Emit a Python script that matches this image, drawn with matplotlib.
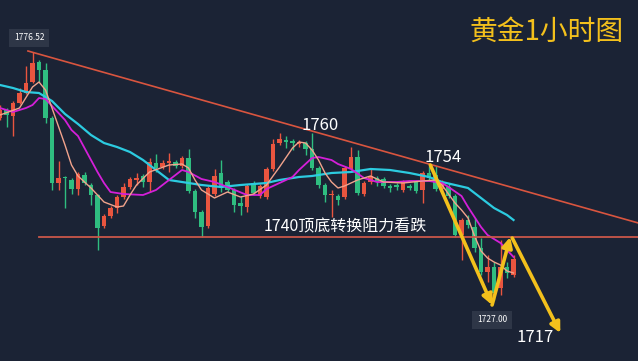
import matplotlib
matplotlib.use("Agg")
import matplotlib.pyplot as plt
import numpy as np

plt.rcParams['font.family'] = ['Noto Sans CJK SC', 'DejaVu Sans']

# ---- data (1-hour gold candles) ----
opens = [1763.4, 1765.0, 1763.8, 1766.4, 1768.4, 1770.6, 1774.6, 1773.0, 1763.4, 1750.4,
         1751.6, 1751.0, 1749.2, 1752.0, 1750.0, 1748.0, 1741.8, 1743.8, 1745.4, 1747.6,
         1749.6, 1751.0, 1751.8, 1750.6, 1754.4, 1753.6, 1754.4, 1754.6, 1753.8, 1755.4,
         1748.8, 1744.6, 1741.8, 1748.2, 1752.4, 1750.6, 1749.0, 1746.4, 1745.6, 1750.4,
         1747.8, 1747.6, 1753.2, 1758.4, 1759.0, 1758.8, 1758.2, 1758.4, 1757.2, 1753.4,
         1750.0, 1748.0, 1747.8, 1747.6, 1753.2, 1755.6, 1748.2, 1750.6, 1751.4, 1751.2,
         1749.8, 1750.0, 1749.0, 1749.8, 1750.6, 1749.0, 1752.4, 1752.0, 1749.2, 1749.6,
         1747.8, 1740.0, 1743.0, 1741.6, 1737.4, 1732.6, 1733.6, 1729.4, 1733.6, 1732.0]
highs = [1766.0, 1765.4, 1766.8, 1769.4, 1773.8, 1776.52, 1775.0, 1774.4, 1763.8, 1754.8,
         1751.8, 1751.4, 1752.6, 1752.6, 1750.4, 1748.2, 1744.2, 1745.8, 1748.0, 1750.4,
         1751.6, 1752.4, 1752.2, 1755.4, 1756.2, 1755.0, 1756.4, 1755.0, 1755.8, 1757.2,
         1749.2, 1745.0, 1749.8, 1753.2, 1755.0, 1751.0, 1749.4, 1747.8, 1750.2, 1750.8,
         1750.2, 1753.6, 1759.2, 1760.4, 1759.8, 1759.2, 1759.0, 1758.8, 1760.4, 1753.8,
         1750.4, 1749.0, 1748.2, 1753.8, 1757.6, 1757.0, 1750.8, 1753.4, 1751.8, 1751.6,
         1750.2, 1750.4, 1751.0, 1750.2, 1751.0, 1752.8, 1753.8, 1753.8, 1751.0, 1750.4,
         1748.2, 1743.4, 1744.0, 1743.4, 1739.4, 1736.0, 1734.6, 1739.0, 1734.6, 1736.0]
lows = [1763.0, 1761.6, 1759.8, 1766.2, 1768.2, 1770.4, 1770.6, 1762.4, 1749.0, 1749.0,
        1745.4, 1748.2, 1748.0, 1750.0, 1746.0, 1737.0, 1741.4, 1743.4, 1744.4, 1747.2,
        1749.2, 1750.0, 1749.6, 1748.6, 1752.6, 1753.2, 1752.6, 1753.4, 1753.4, 1748.4,
        1743.4, 1739.6, 1741.4, 1747.8, 1748.6, 1748.6, 1744.6, 1744.0, 1744.6, 1748.0,
        1747.4, 1747.2, 1752.8, 1758.0, 1757.4, 1757.0, 1757.6, 1756.0, 1753.0, 1749.4,
        1746.6, 1743.6, 1746.0, 1747.2, 1753.0, 1748.0, 1747.8, 1750.2, 1749.8, 1749.4,
        1748.6, 1749.0, 1748.6, 1749.0, 1748.4, 1746.4, 1751.0, 1748.8, 1748.8, 1747.4,
        1739.6, 1735.0, 1741.4, 1736.6, 1732.0, 1730.6, 1727.0, 1728.0, 1731.4, 1731.6]
closes = [1765.0, 1764.0, 1766.4, 1768.4, 1770.4, 1774.4, 1773.0, 1763.4, 1750.4, 1751.4,
          1751.4, 1749.2, 1752.2, 1750.4, 1748.0, 1741.4, 1743.8, 1745.4, 1747.6, 1749.6,
          1751.2, 1751.4, 1750.6, 1754.6, 1753.4, 1754.4, 1754.8, 1753.8, 1755.4, 1748.8,
          1744.6, 1741.6, 1749.4, 1751.8, 1749.4, 1749.0, 1746.0, 1745.8, 1749.8, 1748.4,
          1749.8, 1753.2, 1758.2, 1759.2, 1758.6, 1758.4, 1758.6, 1757.2, 1753.4, 1750.0,
          1748.0, 1748.2, 1747.0, 1753.4, 1755.6, 1748.4, 1750.4, 1751.8, 1750.6, 1749.8,
          1749.4, 1749.6, 1750.6, 1749.4, 1748.8, 1752.4, 1751.4, 1749.2, 1750.6, 1747.8,
          1740.0, 1743.0, 1742.0, 1737.4, 1732.6, 1733.6, 1728.4, 1733.6, 1732.4, 1735.2]

# moving averages (candle index, price)
ma_fast_idx = [0, 3, 5, 6, 7, 8, 10, 11, 12, 14, 16, 18, 19, 20, 21, 23, 26, 28, 29, 30, 31, 33,
               35, 37, 39, 41, 43, 45, 46, 47, 48, 49, 50, 51, 52, 53, 55, 57, 59, 62, 65, 67,
               68, 69, 70, 71, 72, 73, 74, 75, 76, 77, 78, 79]
ma_fast = [1764.0, 1765.4, 1769.6, 1770.6, 1769.0, 1765.4, 1758.0, 1754.0, 1751.8, 1749.4,
           1746.6, 1745.6, 1745.8, 1748.0, 1750.0, 1752.6, 1754.0, 1754.2, 1753.4, 1751.0,
           1749.0, 1747.4, 1748.6, 1747.6, 1748.2, 1750.0, 1753.6, 1757.4, 1758.6, 1758.4,
           1757.0, 1755.0, 1752.4, 1750.6, 1749.4, 1749.8, 1751.0, 1751.8, 1750.6, 1750.4,
           1750.8, 1751.0, 1750.0, 1748.2, 1746.4, 1745.0, 1743.4, 1739.8, 1736.8, 1735.4,
           1734.6, 1734.0, 1732.8, 1732.4]
ma_mid_idx = [0, 2, 4, 5, 6, 7, 9, 10, 11, 12, 13, 14, 15, 16, 17, 19, 22, 24, 26, 28, 29, 31,
              33, 35, 38, 40, 41, 43, 45, 46, 47, 48, 49, 51, 52, 54, 56, 58, 61, 63, 66, 68,
              69, 71, 72, 74, 75, 77, 79]
ma_mid = [1765.4, 1764.6, 1765.4, 1766.0, 1767.4, 1767.2, 1764.4, 1763.0, 1761.0, 1759.8,
          1757.4, 1755.0, 1752.6, 1750.4, 1748.6, 1748.2, 1748.0, 1749.0, 1751.0, 1753.0,
          1752.6, 1751.2, 1750.6, 1749.6, 1748.0, 1748.0, 1749.2, 1750.4, 1751.6, 1753.0,
          1754.2, 1755.4, 1755.6, 1755.0, 1754.2, 1753.2, 1751.4, 1750.6, 1750.6, 1750.8,
          1750.8, 1750.4, 1749.6, 1747.8, 1745.6, 1741.6, 1740.0, 1738.4, 1735.6]
ma_slow_idx = [0, 2, 4, 6, 8, 10, 12, 14, 16, 18, 20, 22, 24, 26, 28, 31, 34, 37, 41, 43, 46,
               48, 51, 54, 57, 60, 63, 66, 68, 70, 72, 74, 76, 78, 79]
ma_slow = [1770.0, 1769.4, 1768.6, 1768.4, 1766.8, 1764.2, 1762.2, 1760.0, 1758.4, 1757.6,
           1756.6, 1755.0, 1753.0, 1751.0, 1750.6, 1750.0, 1749.6, 1750.0, 1750.4, 1751.0,
           1751.6, 1751.8, 1752.4, 1752.6, 1753.2, 1753.0, 1752.4, 1751.6, 1750.6, 1750.0,
           1749.4, 1747.4, 1745.4, 1744.0, 1743.0]

# annotations
trend_x = [4.3, 98.2]
trend_y = [1776.8, 1742.4]
support_level = 1739.7
support_start = 6
arrow_path = [(66.2, 1754.0), (75.7, 1726.0), (78.5, 1739.6)]
arrow_last = [(78.8, 1739.4), (86.2, 1720.4)]
high_label = "1776.52"
low_label = "1727.00"

BG = '#1b2335'
UP = '#e9553f'
DOWN = '#2fbd80'
GOLD = '#f3c01c'

fig = plt.figure(figsize=(6.38, 3.61), dpi=100, facecolor=BG)
ax = fig.add_axes([0, 0, 1, 1])
ax.set_facecolor(BG)
ax.set_xlim(0, 98.15)
ax.set_ylim(1714.8, 1787)
ax.axis('off')

n = len(opens)
idx = np.arange(n)
o = np.array(opens); c = np.array(closes); h = np.array(highs); l = np.array(lows)
cols = [UP if ci >= oi else DOWN for oi, ci in zip(o, c)]
ax.vlines(idx, l, h, colors=cols, lw=1.0, zorder=2)
body_bottom = np.minimum(o, c)
body_h = np.maximum(np.abs(c - o), 0.25)
ax.bar(idx, body_h, bottom=body_bottom, width=0.72, color=cols, zorder=3, linewidth=0)

# moving averages
ax.plot(ma_slow_idx, ma_slow, color='#2ccbe0', lw=1.6, zorder=4)
ax.plot(ma_mid_idx, ma_mid, color='#d41fd8', lw=1.3, zorder=4)
ax.plot(ma_fast_idx, ma_fast, color='#f2a38c', lw=1.0, zorder=4)

# trendline and support
ax.plot(trend_x, trend_y, color='#d9553f', lw=1.2, zorder=5)
ax.plot([support_start, 98.15], [support_level, support_level], color='#c9574a', lw=1.3, zorder=5)

# price labels
ax.text(4.5, 1779.4, high_label, color='white', fontsize=6, ha='center', va='center',
        bbox=dict(boxstyle='square,pad=0.55', fc='#2e3647', ec='none'), zorder=6)
ax.text(75.7, 1723.0, low_label, color='white', fontsize=6, ha='center', va='center',
        bbox=dict(boxstyle='square,pad=0.55', fc='#2e3647', ec='none'), zorder=6)

# yellow arrows
for (a, b) in zip(arrow_path[:-1], arrow_path[1:]):
    ax.annotate('', xy=b, xytext=a,
                arrowprops=dict(arrowstyle='-|>,head_length=0.6,head_width=0.3',
                                color=GOLD, lw=2.6, shrinkA=0, shrinkB=0), zorder=7)
ax.annotate('', xy=arrow_last[1], xytext=arrow_last[0],
            arrowprops=dict(arrowstyle='-|>,head_length=0.6,head_width=0.3',
                            color=GOLD, lw=2.6, shrinkA=0, shrinkB=0), zorder=7)

# texts
ax.text(49.2, 1762.0, '1760', color='white', fontsize=12, ha='center', va='center', zorder=8)
ax.text(68.2, 1755.6, '1754', color='white', fontsize=12, ha='center', va='center', zorder=8)
ax.text(82.3, 1719.4, '1717', color='white', fontsize=12, ha='center', va='center', zorder=8)
ax.text(53.1, 1741.6, '1740顶底转换阻力看跌', color='white', fontsize=11.5, ha='center',
        va='center', zorder=8)
ax.text(0.857, 0.911, '黄金1小时图', color=GOLD, fontsize=20, ha='center', va='center',
        transform=ax.transAxes, zorder=8)

fig.savefig('out.png', dpi=100, facecolor=BG)
